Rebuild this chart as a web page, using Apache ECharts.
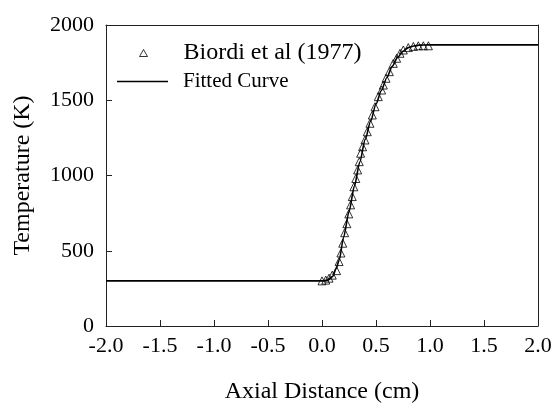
<!DOCTYPE html>
<html>
<head>
<meta charset="utf-8">
<script src="https://cdn.jsdelivr.net/npm/echarts@6/dist/echarts.min.js"></script>
<style>html,body{margin:0;padding:0;background:#fff;}#c{width:554px;height:403px;}</style>
</head>
<body>
<div id="c"></div>
<script>
// Experimental data (Biordi et al 1977)
const expX = [0.000, 0.035, 0.065, 0.095, 0.135, 0.158, 0.175, 0.192, 0.210, 0.230, 0.248, 0.265, 0.280, 0.295, 0.313, 0.330, 0.345, 0.358, 0.376, 0.398, 0.419, 0.444, 0.466, 0.491, 0.521, 0.552, 0.568, 0.593, 0.623, 0.660, 0.691, 0.722, 0.753, 0.799, 0.846, 0.892, 0.938, 0.985];
const expT = [300, 305, 318, 338, 368, 428, 485, 550, 620, 680, 745, 805, 860, 925, 980, 1037, 1092, 1148, 1191, 1236, 1291, 1347, 1402, 1457, 1524, 1568, 1601, 1646, 1690, 1745, 1779, 1812, 1834, 1850, 1858, 1862, 1862, 1862];
// Fitted curve
const curveX = [-2.0, 0.0, 0.05, 0.10, 0.13, 0.16, 0.20, 0.25, 0.30, 0.35, 0.40, 0.45, 0.50, 0.55, 0.60, 0.65, 0.70, 0.75, 0.80, 0.85, 0.90, 1.0, 1.2, 2.0];
const curveT = [300, 300, 303, 330, 380, 440, 590, 760, 930, 1090, 1240, 1360, 1475, 1565, 1650, 1725, 1785, 1825, 1850, 1860, 1866, 1868, 1868, 1868];
const xTicks = ['-2.0', '-1.5', '-1.0', '-0.5', '0.0', '0.5', '1.0', '1.5', '2.0'];
const yTicks = ['0', '500', '1000', '1500', '2000'];
const seriesNames = ['Biordi et al (1977)', 'Fitted Curve'];
const xTitle = 'Axial Distance (cm)';
const yTitle = 'Temperature (K)';

const font = 'Liberation Serif';
const chart = echarts.init(document.getElementById('c'), null, {renderer: 'canvas'});
const axisLine = {show: true, onZero: false, lineStyle: {color: '#222', width: 1}};
chart.setOption({
  animation: false,
  backgroundColor: '#fff',
  grid: {left: 106, right: 16, top: 25, bottom: 77, containLabel: false, outerBoundsMode: 'none'},
  legend: [
    {
      data: [seriesNames[0]], left: 139, top: 41, orient: 'vertical',
      itemWidth: 8, itemHeight: 7, icon: 'triangle',
      itemStyle: {color: 'rgba(0,0,0,0)', borderColor: '#000', borderWidth: 1},
      textStyle: {fontFamily: font, fontSize: 24, color: '#000', padding: [0, 0, 0, 31]}, padding: 0
    },
    {
      data: [seriesNames[1]], left: 117, top: 71, orient: 'vertical',
      itemWidth: 51, itemHeight: 1.6, icon: 'rect',
      itemStyle: {color: '#000'},
      textStyle: {fontFamily: font, fontSize: 21, color: '#000', padding: [0, 0, 0, 10]}, padding: 0
    }
  ],
  xAxis: [
    {
      type: 'value', min: -2, max: 2, interval: 0.5, position: 'bottom',
      axisLine: axisLine,
      axisTick: {show: true, inside: true, length: 6, lineStyle: {color: '#222'}},
      axisLabel: {fontFamily: font, fontSize: 22, color: '#000', margin: 9,
        formatter: v => xTicks[Math.round((v + 2) / 0.5)]},
      splitLine: {show: false},
      name: xTitle, nameLocation: 'middle', nameGap: 54,
      nameTextStyle: {fontFamily: font, fontSize: 24, color: '#000'}
    },
    {
      type: 'value', min: -2, max: 2, position: 'top',
      axisLine: axisLine, axisTick: {show: false}, axisLabel: {show: false}, splitLine: {show: false}
    }
  ],
  yAxis: [
    {
      type: 'value', min: 0, max: 2000, interval: 500, position: 'left',
      axisLine: axisLine,
      axisTick: {show: true, inside: true, length: 6, lineStyle: {color: '#222'}},
      axisLabel: {fontFamily: font, fontSize: 22, color: '#000', margin: 12,
        formatter: v => yTicks[Math.round(v / 500)]},
      splitLine: {show: false},
      name: yTitle, nameLocation: 'middle', nameGap: 71,
      nameTextStyle: {fontFamily: font, fontSize: 24, color: '#000'}
    },
    {
      type: 'value', min: 0, max: 2000, position: 'right',
      axisLine: axisLine, axisTick: {show: false}, axisLabel: {show: false}, splitLine: {show: false}
    }
  ],
  series: [
    {
      name: seriesNames[1], type: 'line', symbol: 'none',
      smooth: 0.25, smoothMonotone: 'x',
      lineStyle: {color: '#000', width: 1.6},
      itemStyle: {color: '#000'},
      data: curveX.map((x, i) => [x, curveT[i]]), z: 2
    },
    {
      name: seriesNames[0], type: 'scatter', symbol: 'triangle', symbolSize: 8,
      itemStyle: {color: 'rgba(0,0,0,0)', borderColor: '#000', borderWidth: 1},
      data: expX.map((x, i) => [x, expT[i]]), z: 3
    }
  ]
});
</script>
</body>
</html>
